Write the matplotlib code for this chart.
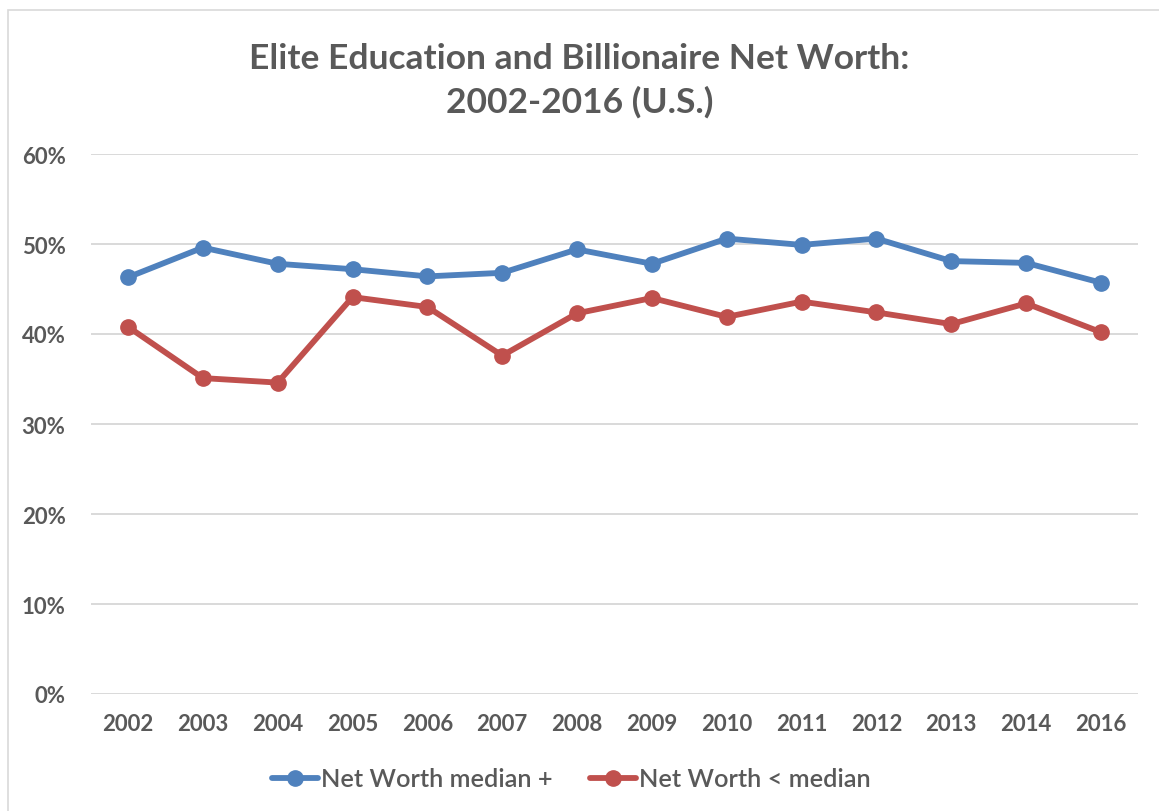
import matplotlib
matplotlib.use("Agg")
import matplotlib.pyplot as plt
from matplotlib.patches import Rectangle

years = ["2002", "2003", "2004", "2005", "2006", "2007", "2008",
         "2009", "2010", "2011", "2012", "2013", "2014", "2016"]
above_median = [0.463, 0.496, 0.478, 0.472, 0.464, 0.468, 0.494,
                0.478, 0.506, 0.499, 0.506, 0.481, 0.479, 0.457]
below_median = [0.408, 0.351, 0.346, 0.441, 0.430, 0.376, 0.423,
                0.440, 0.419, 0.436, 0.424, 0.411, 0.434, 0.402]
yticks = [0, 0.1, 0.2, 0.3, 0.4, 0.5, 0.6]
ytick_labels = ["0%", "10%", "20%", "30%", "40%", "50%", "60%"]

GRAY = "#595959"
BLUE = "#4F81BD"
RED = "#C0504D"
plt.rcParams['font.family'] = ['Lato', 'DejaVu Sans']

W, H = 1159, 812
fig = plt.figure(figsize=(W / 100, H / 100), dpi=100)
# chart border (cropped on right and bottom)
fig.patches.append(Rectangle((8 / W, -0.1), 1.2, 1 - 11 / H + 0.1,
                             transform=fig.transFigure, fill=False,
                             edgecolor="#D9D9D9", linewidth=1.2))

left, right = 90.6 / W, 1138.4 / W
bottom, top = 1 - 695 / H, 1 - 155 / H
ax = fig.add_axes([left, bottom, right - left, top - bottom])

x = list(range(len(years)))
ax.plot(x, above_median, color=BLUE, lw=4.2, marker="o", ms=11,
        label="Net Worth median +", solid_capstyle="round", zorder=3)
ax.plot(x, below_median, color=RED, lw=4.2, marker="o", ms=11,
        label="Net Worth < median", solid_capstyle="round", zorder=3)

ax.set_xlim(-0.5, len(years) - 0.5)
ax.set_ylim(0, 0.6)
ax.set_yticks(yticks)
ax.set_yticklabels(ytick_labels)
ax.set_xticks(x)
ax.set_xticklabels(years)
for s in ax.spines.values():
    s.set_visible(False)
ax.grid(axis="y", color="#D9D9D9", lw=1.4, zorder=0)
ax.tick_params(length=0, labelsize=16, labelcolor=GRAY)
ax.tick_params(axis="y", pad=18)
ax.tick_params(axis="x", pad=14)
for lab in ax.get_xticklabels() + ax.get_yticklabels():
    lab.set_fontweight("bold")

fig.text(0.5, 1 - 81 / H, "Elite Education and Billionaire Net Worth:\n2002-2016 (U.S.)",
         ha="center", va="center", fontsize=25.5, fontweight="bold",
         color=GRAY, linespacing=1.4)

leg = fig.legend(loc="center", bbox_to_anchor=(0.493, 1 - 780 / H), ncol=2,
                 frameon=False, fontsize=18.3, handlelength=1.8,
                 columnspacing=1.5, handletextpad=0.1)
for t in leg.get_texts():
    t.set_color(GRAY)
    t.set_fontweight("semibold")

fig.savefig("out.png", dpi=100)
